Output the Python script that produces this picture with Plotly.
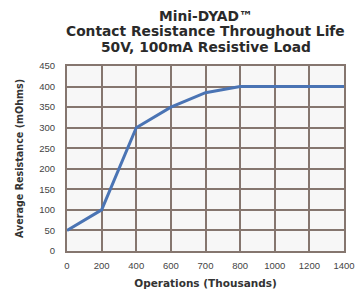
import plotly.graph_objects as go

operations = ["0", "200", "400", "600", "700", "800", "1000", "1200", "1400"]
resistance = [50, 100, 300, 350, 385, 400, 400, 400, 400]
y_ticks = [0, 50, 100, 150, 200, 250, 300, 350, 400, 450]
title_lines = ["Mini-DYAD™", "Contact Resistance Throughout Life", "50V, 100mA Resistive Load"]

fig = go.Figure()
fig.add_trace(go.Scatter(
    x=list(range(len(operations))), y=resistance, mode="lines",
    line=dict(color="#4a74b4", width=3),
))

grid = "#85766f"
wide = "DejaVu Sans, Verdana"
top, plot_h = 66, 185
for i, line in enumerate(title_lines):
    py = 16 + 15.5 * i
    fig.add_annotation(
        text="<b>%s</b>" % line, xref="paper", yref="paper",
        x=0.5, xanchor="center", y=1 + (top - py) / plot_h, yanchor="middle",
        showarrow=False, font=dict(size=13.8, color="#2a2a2a", family=wide),
    )

fig.update_layout(
    width=355, height=294,
    margin=dict(l=67, r=11, t=top, b=294 - top - plot_h, autoexpand=False),
    paper_bgcolor="white", plot_bgcolor="#f7f7f7",
    showlegend=False,
    font=dict(family="Liberation Sans, Arial", color="#333"),
    xaxis=dict(
        range=[0, len(operations) - 1],
        tickmode="array", tickvals=list(range(len(operations))), ticktext=operations,
        showgrid=True, gridcolor=grid, gridwidth=2,
        showline=True, linecolor=grid, linewidth=2, mirror=True,
        zeroline=False, ticks="", automargin=False, ticklabelstandoff=5,
        tickfont=dict(size=9.5, color="#444"),
        title=dict(text="<b>Operations (Thousands)</b>", font=dict(size=10.5, color="#333", family=wide), standoff=9),
    ),
    yaxis=dict(
        range=[0, 450],
        tickmode="array", tickvals=y_ticks,
        showgrid=True, gridcolor=grid, gridwidth=2,
        showline=True, linecolor=grid, linewidth=2, mirror=True,
        zeroline=False, ticks="", automargin=False, ticklabelstandoff=8,
        tickfont=dict(size=9.5, color="#444"),
        title=dict(text="<b>Average Resistance (mOhms)</b>", font=dict(size=9.6, color="#333", family=wide), standoff=14),
    ),
)

fig.write_html("out.html", config={"displayModeBar": False},
               post_script="document.body.style.margin='0';document.body.style.overflow='hidden';")
